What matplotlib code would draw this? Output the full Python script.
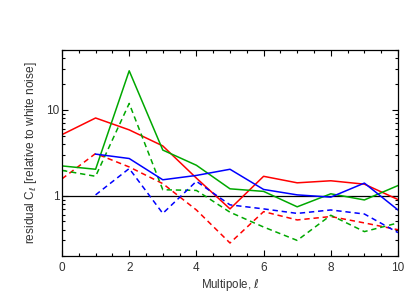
import numpy as np
import matplotlib
matplotlib.use("Agg")
import matplotlib.pyplot as plt
from matplotlib.ticker import LogLocator, FixedLocator, MultipleLocator, NullFormatter

plt.rcParams['font.family'] = ['Liberation Sans', 'DejaVu Sans']

# multipole index
ell = [0, 1, 2, 3, 4, 5, 6, 7, 8, 9, 10]
ell_b = [1, 2, 3, 4, 5, 6, 7, 8, 9, 10]

# residual C_l relative to white noise
red_solid = [5.15, 8.05, 5.85, 3.8, 1.6, 0.70, 1.68, 1.41, 1.49, 1.36, 0.90]
red_dash = [1.57, 3.1, 2.16, 1.38, 0.68, 0.28, 0.65, 0.52, 0.57, 0.48, 0.40]
green_solid = [2.22, 2.03, 28.6, 3.4, 2.26, 1.2, 1.12, 0.74, 1.05, 0.89, 1.31]
green_dash = [1.97, 1.68, 11.9, 1.17, 1.15, 0.64, 0.43, 0.30, 0.59, 0.38, 0.48]
blue_solid = [3.05, 2.71, 1.53, 1.72, 2.03, 1.18, 1.02, 0.96, 1.40, 0.68]
blue_dash = [1.02, 2.07, 0.62, 1.47, 0.78, 0.70, 0.62, 0.68, 0.61, 0.37]

RED = '#ff0000'
GREEN = '#00a800'
BLUE = '#0000ff'

fig = plt.figure(figsize=(4.15, 2.97), dpi=100)
ax = fig.add_axes([0.1494, 0.1397, 0.8096, 0.6919])

lw = 1.1
ax.axhline(1.0, color='black', lw=0.9)
ax.plot(ell, red_solid, color=RED, lw=lw)
ax.plot(ell, red_dash, color=RED, lw=lw, ls=(0, (3.5, 2.5)))
ax.plot(ell, green_solid, color=GREEN, lw=lw)
ax.plot(ell, green_dash, color=GREEN, lw=lw, ls=(0, (3.5, 2.5)))
ax.plot(ell_b, blue_solid, color=BLUE, lw=lw)
ax.plot(ell_b, blue_dash, color=BLUE, lw=lw, ls=(0, (3.5, 2.5)))

ax.set_yscale('log')
ax.set_xlim(0, 10)
ax.set_ylim(0.2, 50)

ax.xaxis.set_major_locator(MultipleLocator(2))
ax.xaxis.set_minor_locator(MultipleLocator(0.5))
ax.yaxis.set_major_locator(FixedLocator([1, 10]))
ax.yaxis.set_minor_locator(LogLocator(base=10, subs=np.arange(2, 10)))
ax.yaxis.set_minor_formatter(NullFormatter())
ax.set_yticklabels(['1', '10'])

ax.tick_params(which='both', direction='in', top=True, right=True,
               labelsize=8.5, color='black', labelcolor='#333333', width=0.8)
ax.tick_params(axis='x', pad=5)
ax.tick_params(axis='y', pad=2)
ax.tick_params(which='major', length=4.5)
ax.tick_params(which='minor', length=2.5)
for s in ax.spines.values():
    s.set_linewidth(0.9)

ax.set_xlabel(r'Multipole, $\ell$', fontsize=8.3, labelpad=1.5, color='#333333')
ax.set_ylabel(r'residual C$_\ell$ [relative to white noise]', fontsize=8.6,
              labelpad=5, color='#333333')

fig.savefig('out.png', dpi=100)
